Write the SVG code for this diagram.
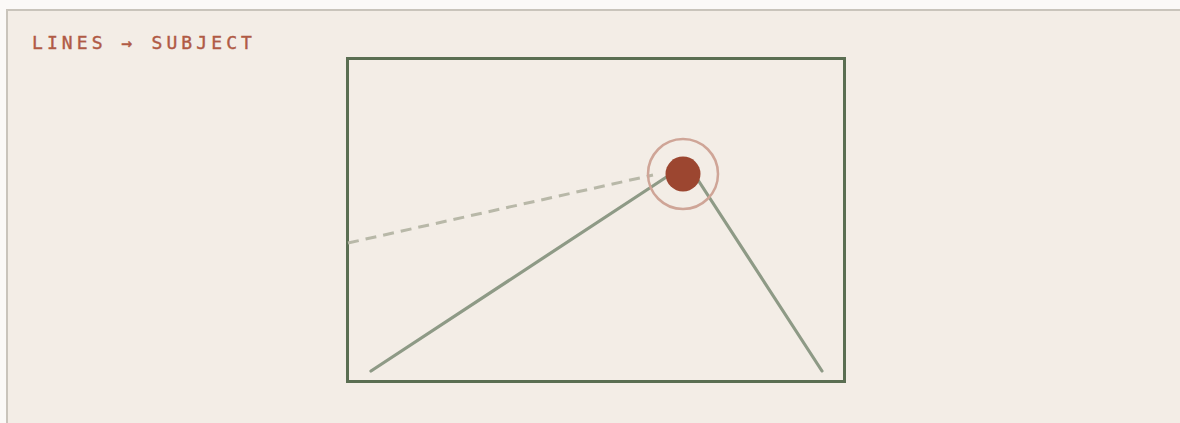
<svg xmlns="http://www.w3.org/2000/svg" width="1180" height="423" viewBox="0 0 1180 423">
  <style>
    .title { font-family: "DejaVu Sans Mono", "Liberation Mono", monospace; font-size: 18px; fill: #b05a45; stroke: #b05a45; stroke-width: 0.4; letter-spacing: 4.1px; }
    .frame { fill: none; stroke: #5a6e52; stroke-width: 3; }
    .lead { stroke: #8e9a86; stroke-width: 3.2; stroke-linecap: round; fill: none; }
    .dash { stroke: #b8b8a8; stroke-width: 3; stroke-dasharray: 11 7; fill: none; }
  </style>
  <rect x="0" y="0" width="1180" height="423" fill="#fbf9f7"/>
  <rect x="7" y="10" width="1180" height="420" fill="#f3ede6" stroke="#c9c4bb" stroke-width="2"/>
  <text class="title" x="32" y="49">LINES → SUBJECT</text>
  <g id="frame">
    <rect class="frame" x="347.5" y="58.5" width="497" height="323"/>
  </g>
  <g id="connectors">
    <line class="dash" x1="348" y1="243" x2="653" y2="175"/>
    <line class="lead" x1="371" y1="371" x2="668" y2="176"/>
    <line class="lead" x1="698" y1="180" x2="822" y2="371"/>
  </g>
  <g id="subject">
    <circle cx="683" cy="174" r="35" fill="none" stroke="#cfa597" stroke-width="2.5"/>
    <circle cx="683" cy="174" r="17.5" fill="#9c4630"/>
  </g>
</svg>
